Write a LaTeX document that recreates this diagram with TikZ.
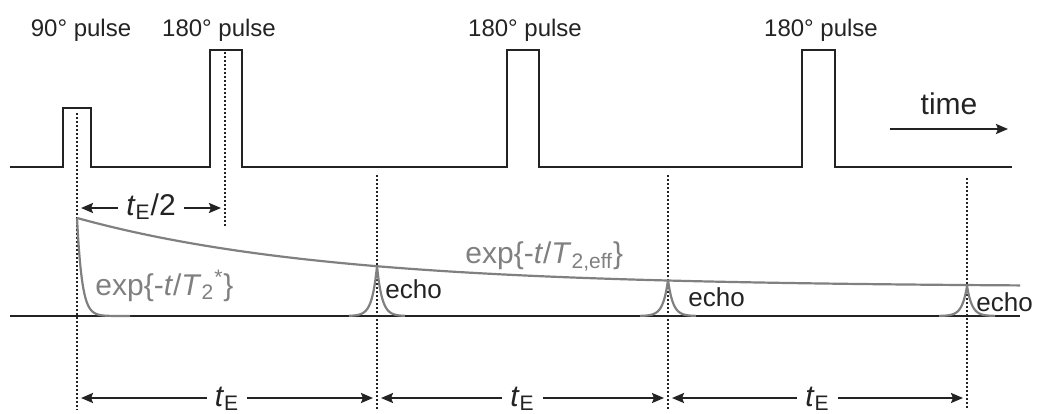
\documentclass[tikz,border=0pt]{standalone}
\usepackage{fontspec}
\setmainfont{Liberation Sans}
\usepackage{tikz}
\usetikzlibrary{arrows.meta}
\definecolor{ink}{RGB}{35,35,35}
\definecolor{fade}{RGB}{128,128,128}
\newcommand{\tE}{\textit{t}\textsubscript{E}}

\begin{document}
\begin{tikzpicture}[
  x=0.5pt, y=-0.5pt,
  pulse/.style={draw=ink, line width=1.1pt, line join=miter},
  marker/.style={draw=ink, line width=1.4pt, dash pattern=on 1pt off 1pt},
  signal/.style={draw=fade, line width=1.1pt},
  pulsetext/.style={font=\fontsize{12}{14}\selectfont, text=ink, anchor=base, inner sep=0pt},
  echotext/.style={font=\fontsize{13}{15}\selectfont, text=ink, anchor=base west, inner sep=0pt},
  fadetext/.style={font=\fontsize{15}{17}\selectfont, text=fade, anchor=base west, inner sep=0pt},
  span/.style={{Stealth[length=6pt, width=5pt, inset=1pt]}-{Stealth[length=6pt, width=5pt, inset=1pt]},
               draw=ink, line width=1.1pt, shorten <=2pt, shorten >=2pt},
  spantext/.style={fill=white, font=\fontsize{15}{17}\selectfont, text=ink, anchor=base,
               yshift=-4pt, inner xsep=4pt, inner ysep=1pt},
  arrow/.style={-{Stealth[length=6pt, width=5pt, inset=1pt]}, draw=ink, line width=1.1pt},
]
\useasboundingbox (0,0) rectangle (1037,413);

% pulse train
\draw[pulse] (10,167) -- (63,167) -- (63,108) -- (91,108) -- (91,167)
  -- (210,167) -- (210,50) -- (242,50) -- (242,167)
  -- (507,167) -- (507,50) -- (539,50) -- (539,167)
  -- (802,167) -- (802,50) -- (835,50) -- (835,167) -- (1012,167);
\node[pulsetext] (p90) at (81,36) {90° pulse};
\node[pulsetext] (p180a) at (219,36) {180° pulse};
\node[pulsetext] (p180b) at (525,36) {180° pulse};
\node[pulsetext] (p180c) at (821,36) {180° pulse};

\coordinate (tstart) at (890,129);
\coordinate (tend) at (1008,129);
\draw[arrow] (tstart) -- node[font=\fontsize{15}{17}\selectfont, text=ink, above=3pt] (time) {time} (tend);

% time markers
\coordinate (m0) at (77,113);   \coordinate (b0) at (77,410);
\coordinate (mh) at (225,52);   \coordinate (bh) at (225,228);
\coordinate (m1) at (377,175);  \coordinate (b1) at (377,410);
\coordinate (m2) at (668,175);  \coordinate (b2) at (668,410);
\coordinate (m3) at (967,178);  \coordinate (b3) at (967,410);
\foreach \m/\b in {m0/b0, mh/bh, m1/b1, m2/b2, m3/b3}
  \draw[marker] (\m) -- (\b);

% signal
\draw[draw=ink, line width=1.1pt] (10,316) -- (1020,316);
\draw[signal] plot[domain=77:1020, samples=90] (\x,{218+69*(1-exp(-(\x-77)/250))});
\draw[signal] plot[domain=77:130, samples=60] (\x,{316-98*exp(-(\x-77)/5)});
\foreach \ex/\eh in {377/50, 668/36, 967/30} {
  \draw[signal] plot[domain=\ex-28:\ex, samples=50] (\x,{316-\eh*exp(-(\ex-\x)/5)});
  \draw[signal] plot[domain=\ex:\ex+28, samples=50] (\x,{316-\eh*exp(-(\x-\ex)/5)});
}

\node[fadetext] (fid) at (95,295) {exp\{-\textit{t}/\textit{T}\textsubscript{2}\textsuperscript{*}\}};
\node[fadetext] (env) at (465,263) {exp\{-\textit{t}/\textit{T}\textsubscript{2,eff}\}};
\node[echotext] (echo1) at (385,298) {echo};
\node[echotext] (echo2) at (688,306) {echo};
\node[echotext] (echo3) at (976,311) {echo};

% intervals
\coordinate (s0) at (77,208);  \coordinate (sh) at (225,208);
\draw[span] (s0) -- node[spantext, yshift=0.5pt] (half) {\tE/2} (sh);
\coordinate (d0) at (77,398);  \coordinate (d1) at (377,398);
\coordinate (d2) at (668,398); \coordinate (d3) at (967,398);
\draw[span] (d0) -- node[spantext] (te1) {\tE} (d1);
\draw[span] (d1) -- node[spantext] (te2) {\tE} (d2);
\draw[span] (d2) -- node[spantext] (te3) {\tE} (d3);
\end{tikzpicture}
\end{document}
